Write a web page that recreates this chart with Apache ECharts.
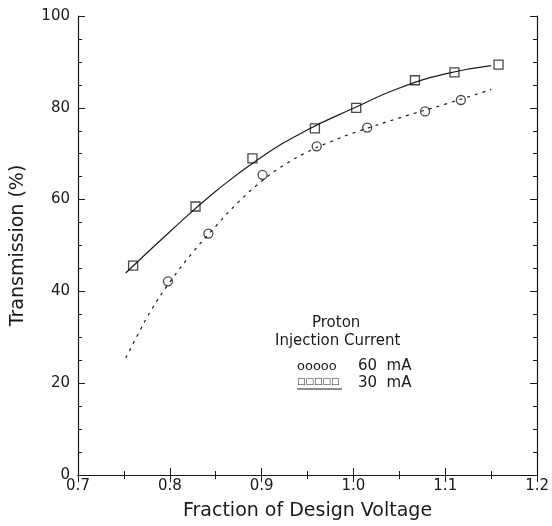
<!DOCTYPE html>
<html>
<head>
<meta charset="utf-8">
<script src="https://cdn.jsdelivr.net/npm/echarts@6/dist/echarts.min.js"></script>
<style>
  html, body { margin: 0; padding: 0; background: #fff; }
  #chart { width: 552px; height: 526px; }
</style>
</head>
<body>
<div id="chart"></div>
<script>
// measured points, 30 mA (squares, solid curve)
const sqX = [0.76, 0.828, 0.89, 0.958, 1.003, 1.067, 1.11, 1.158]
const sqY = [45.6, 58.5, 69, 75.5, 80, 86, 87.7, 89.4]
// measured points, 60 mA (circles, dotted curve)
const ciX = [0.798, 0.842, 0.901, 0.96, 1.015, 1.078, 1.117]
const ciY = [42.2, 52.6, 65.4, 71.6, 75.7, 79.2, 81.7]
// fitted curves
const fitSolidX = [0.752, 0.8, 0.85, 0.9, 0.95, 1.0, 1.05, 1.1, 1.15]
const fitSolidY = [44, 53, 61.8, 69.3, 75.2, 79.9, 84.3, 87.4, 89.2]
const fitDotX = [0.752, 0.765, 0.78, 0.8, 0.825, 0.85, 0.875, 0.9, 0.925, 0.95, 0.975, 1.0, 1.05, 1.1, 1.15]
const fitDotY = [25.5, 30.5, 36, 42, 48.5, 54.2, 59.5, 64, 67.6, 70.4, 72.6, 74.5, 77.8, 80.8, 84]

const zip = (xs, ys) => xs.map((x, i) => [x, ys[i]])

const chart = echarts.init(document.getElementById('chart'))
const ink = '#1a1a1a'
const font = 'DejaVu Sans'

const frameAxis = {
  axisLine: { show: true, lineStyle: { color: ink, width: 1.2 } },
  axisTick: { show: true, inside: true, length: 7, lineStyle: { color: ink } },
  minorTick: { show: true, length: 4, lineStyle: { color: ink } },
  splitLine: { show: false }
}

chart.setOption({
  animation: false,
  grid: { left: 78, right: 9, top: 16, bottom: 50 },
  xAxis: [
    {
      type: 'value', min: 0.7, max: 1.2, interval: 0.1,
      ...frameAxis,
      minorTick: { ...frameAxis.minorTick, splitNumber: 2 },
      axisLabel: {
        color: ink, fontFamily: font, fontSize: 15, margin: 4,
        hideOverlap: false, formatter: v => v.toFixed(1)
      },
      name: 'Fraction of Design Voltage',
      nameLocation: 'middle', nameGap: 27,
      nameTextStyle: { color: ink, fontFamily: font, fontSize: 19 }
    },
    {
      type: 'value', min: 0.7, max: 1.2, interval: 0.1, position: 'top',
      ...frameAxis,
      minorTick: { ...frameAxis.minorTick, splitNumber: 2 },
      axisLabel: { show: false }
    }
  ],
  yAxis: [
    {
      type: 'value', min: 0, max: 100, interval: 20,
      ...frameAxis,
      minorTick: { ...frameAxis.minorTick, splitNumber: 4 },
      axisLabel: { color: ink, fontFamily: font, fontSize: 15, margin: 8, hideOverlap: false },
      name: 'Transmission (%)',
      nameLocation: 'middle', nameGap: 50,
      nameTextStyle: { color: ink, fontFamily: font, fontSize: 19 }
    },
    {
      type: 'value', min: 0, max: 100, interval: 20, position: 'right',
      ...frameAxis,
      minorTick: { ...frameAxis.minorTick, splitNumber: 4 },
      axisLabel: { show: false }
    }
  ],
  series: [
    {
      name: '30 mA fit', type: 'line', smooth: true, showSymbol: false,
      data: zip(fitSolidX, fitSolidY),
      lineStyle: { color: ink, width: 1.2 }
    },
    {
      name: '60 mA fit', type: 'line', smooth: true, showSymbol: false,
      data: zip(fitDotX, fitDotY),
      lineStyle: { color: ink, width: 1.2, type: [3, 5] }
    },
    {
      name: '30 mA', type: 'scatter', symbol: 'rect', symbolSize: 9,
      data: zip(sqX, sqY),
      itemStyle: { color: '#fff', borderColor: ink, borderWidth: 1.3 }
    },
    {
      name: '60 mA', type: 'scatter', symbol: 'circle', symbolSize: 9,
      data: zip(ciX, ciY),
      itemStyle: { color: '#fff', borderColor: ink, borderWidth: 1.3 }
    }
  ],
  graphic: [
    { type: 'text', left: 312, top: 316, style: { text: 'Proton', fill: ink, font: '15px ' + font } },
    { type: 'text', left: 275, top: 334, style: { text: 'Injection Current', fill: ink, font: '15px ' + font } },
    { type: 'text', left: 297, top: 360, style: { text: 'ooooo', fill: ink, font: '13px ' + font } },
    { type: 'text', left: 358, top: 359, style: { text: '60  mA', fill: ink, font: '15px ' + font } },
    { type: 'text', left: 297, top: 377, style: { text: '□□□□□', fill: ink, font: '9px ' + font } },
    { type: 'line', shape: { x1: 297, y1: 389, x2: 342, y2: 389 }, style: { stroke: ink, lineWidth: 1 } },
    { type: 'text', left: 358, top: 376, style: { text: '30  mA', fill: ink, font: '15px ' + font } }
  ]
})
</script>
</body>
</html>
